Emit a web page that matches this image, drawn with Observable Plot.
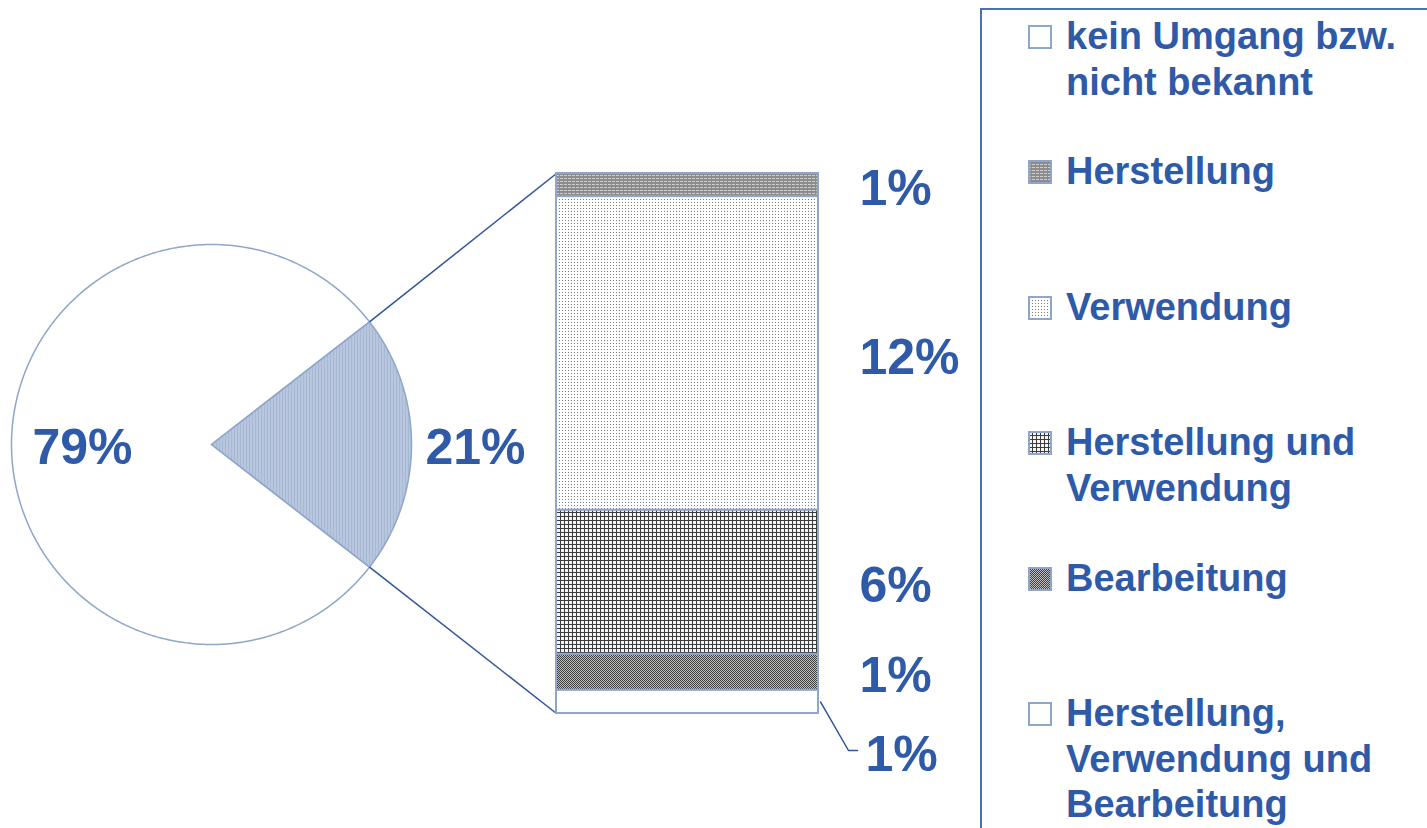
<!DOCTYPE html>
<html>
<head>
<meta charset="utf-8">
<script src="https://cdn.jsdelivr.net/npm/d3@7"></script>
<script src="https://cdn.jsdelivr.net/npm/@observablehq/plot@0.6"></script>
<style>
html, body { margin: 0; padding: 0; background: #fff; overflow: hidden; }
#wrap { position: relative; width: 1427px; height: 828px; overflow: hidden; font-family: "Liberation Sans", Arial, sans-serif; }
#chart svg { display: block; }
#legend { position: absolute; left: 980px; top: 8px; width: 600px; height: 900px; border: 2px solid #4a70b8; box-sizing: border-box; }
.item { position: absolute; left: 84px; font-size: 38px; font-weight: bold; color: #2f5aa8; line-height: 45.5px; white-space: nowrap; }
.sw { position: absolute; left: 46px; width: 24px; height: 24px; }
</style>
</head>
<body>
<svg width="0" height="0" style="position:absolute">
  <defs>
    <pattern id="pPie" width="3" height="2" patternUnits="userSpaceOnUse">
      <rect width="3" height="2" fill="#a6b8d3"/>
      <rect x="1" width="1" height="2" fill="#cad5e6"/>
    </pattern>
    <pattern id="pHer" width="4" height="3" patternUnits="userSpaceOnUse">
      <rect width="4" height="3" fill="#8c8c8c"/>
      <rect x="0" y="1" width="3" height="1" fill="#cdcdcd"/>
    </pattern>
    <pattern id="pVer" width="3" height="3" patternUnits="userSpaceOnUse">
      <rect width="3" height="3" fill="#ffffff"/>
      <rect x="1" y="1" width="1" height="1" fill="#7a7a7a"/>
    </pattern>
    <pattern id="pHuV" width="4" height="4" patternUnits="userSpaceOnUse">
      <rect width="4" height="4" fill="#f4f4f4"/>
      <rect width="4" height="1" fill="#3c3c3c"/>
      <rect width="1" height="4" fill="#3c3c3c"/>
    </pattern>
    <pattern id="pBea" width="2" height="2" patternUnits="userSpaceOnUse">
      <rect width="2" height="2" fill="#bdbdbd"/>
      <rect x="0" y="0" width="1" height="1" fill="#404040"/>
      <rect x="1" y="1" width="1" height="1" fill="#404040"/>
    </pattern>
  </defs>
</svg>
<div id="wrap">
  <div id="chart"></div>
  <div id="legend"></div>
</div>
<script>
// ---------- data ----------
const categories = [
  "kein Umgang bzw. nicht bekannt",
  "Herstellung",
  "Verwendung",
  "Herstellung und Verwendung",
  "Bearbeitung",
  "Herstellung, Verwendung und Bearbeitung"
];
const legendLines = [
  ["kein Umgang bzw.", "nicht bekannt"],
  ["Herstellung"],
  ["Verwendung"],
  ["Herstellung und", "Verwendung"],
  ["Bearbeitung"],
  ["Herstellung,", "Verwendung und", "Bearbeitung"]
];
const categoryFills = ["#ffffff", "url(#pHer)", "url(#pVer)", "url(#pHuV)", "url(#pBea)", "#ffffff"];

const pieCategories = ["kein Umgang bzw. nicht bekannt", "Umgang"];
const pieValues = [79, 21];
const pieLabels = ["79%", "21%"];

// bar: top to bottom
const barCategories = ["Herstellung", "Verwendung", "Herstellung und Verwendung", "Bearbeitung", "Herstellung, Verwendung und Bearbeitung"];
const barValues = [0.9, 12.2, 5.6, 1.4, 0.9];
const barLabels = ["1%", "12%", "6%", "1%", "1%"];

// ---------- layout ----------
const W = 1427, H = 828;
const blue = "#2f5aa8", edge = "#8ea6c9", linkBlue = "#2f5597";
const font = "'Liberation Sans', Arial, sans-serif";
const total = d3.sum(barValues);
const barTopPx = 173, barBottomPx = 713;
const K = (barBottomPx - barTopPx) / total;     // px per percentage unit
const ux = px => px / K;                         // layout helpers (px -> units)
const uy = py => (barBottomPx - py) / K;
const pie = {cx: ux(211), cy: uy(444), r: 200 / K};
const bar = {x0: ux(556), x1: ux(818)};
const labelX = ux(859);
const pieLabelRadius = [0.645, 1.32];

// pie slices (d3 angles: clockwise from 12 o'clock)
const pieSum = d3.sum(pieValues);
const start = Math.PI / 2 + Math.PI * pieValues[1] / pieSum;
const arcs = d3.pie().sort(null).startAngle(start).endAngle(start + 2 * Math.PI)(pieValues);
const pt = (a, rr) => ({x: pie.cx + rr * Math.sin(a), y: pie.cy + rr * Math.cos(a)});
const sliceRows = arcs.map((a, i) => {
  const rows = [{...pt(0, 0)}];
  const n = Math.ceil((a.endAngle - a.startAngle) / 0.01);
  for (let k = 0; k <= n; k++) rows.push(pt(a.startAngle + (a.endAngle - a.startAngle) * k / n, pie.r));
  rows.push({...pt(0, 0)});
  return rows;
});
const pieLabelRows = arcs.map((a, i) => {
  const mid = (a.startAngle + a.endAngle) / 2;
  return {...pt(mid, pie.r * pieLabelRadius[i]), text: pieLabels[i]};
});

// bar stacking (bottom up)
let acc = total;
const barRows = barValues.map((v, i) => {
  const y2 = acc, y1 = acc - v; acc = y1;
  return {cat: barCategories[i], y1, y2, mid: (y1 + y2) / 2, label: barLabels[i],
          fill: categoryFills[categories.indexOf(barCategories[i])]};
});
// last (bottom) label placed outside with a leader
const last = barRows[barRows.length - 1];
const leaderY = uy(750);
last.ly = leaderY; last.lx = ux(865);
barRows.forEach(d => { if (d.ly === undefined) { d.ly = d.mid; d.lx = labelX; } });
const leader = [
  {x: bar.x1 + ux(2), y: last.mid},
  {x: ux(848), y: leaderY},
  {x: ux(857), y: leaderY}
];

// connector lines from the 21% slice to the bar
const small = arcs[1];
const pUp = pt(small.startAngle, pie.r), pDown = pt(small.endAngle, pie.r);
const connectors = [
  {x1: pUp.x, y1: pUp.y, x2: bar.x0, y2: total},
  {x1: pDown.x, y1: pDown.y, x2: bar.x0, y2: 0}
];

const chart = Plot.plot({
  width: W, height: H,
  margin: 0,
  x: {domain: [0, W / K], axis: null},
  y: {domain: [uy(H), uy(0)], axis: null},
  color: {type: "identity"},
  style: {fontFamily: font, background: "white"},
  marks: [
    Plot.line(sliceRows[0], {x: "x", y: "y", fill: "white", stroke: edge, strokeWidth: 1.5}),
    Plot.line(sliceRows[1], {x: "x", y: "y", fill: "url(#pPie)", stroke: edge, strokeWidth: 1.5}),
    Plot.link(connectors, {x1: "x1", y1: "y1", x2: "x2", y2: "y2", stroke: linkBlue, strokeWidth: 1.5}),
    Plot.rect(barRows, {x1: () => bar.x0, x2: () => bar.x1, y1: "y1", y2: "y2", fill: "fill", stroke: edge, strokeWidth: 2}),
    Plot.line(leader, {x: "x", y: "y", stroke: linkBlue, strokeWidth: 1.5}),
    Plot.text(barRows, {x: "lx", y: "ly", text: "label", textAnchor: "start", fontSize: 50, fontWeight: "bold", fill: blue, dy: 4}),
    Plot.text(pieLabelRows, {x: "x", y: "y", text: "text", fontSize: 50, fontWeight: "bold", fill: blue, dy: 3})
  ]
});
document.getElementById("chart").appendChild(chart);

// ---------- legend ----------
const legend = d3.select("#legend");
const firstLine = 27, step = 135.4;
categories.forEach((c, i) => {
  const cyL = firstLine + i * step;
  const sw = legend.append("svg").attr("class", "sw").attr("width", 24).attr("height", 24)
    .style("top", (cyL - 12) + "px");
  sw.append("rect").attr("x", 1).attr("y", 1).attr("width", 22).attr("height", 22)
    .attr("fill", categoryFills[i]).attr("stroke", edge).attr("stroke-width", 2);
  const it = legend.append("div").attr("class", "item").style("top", (cyL - 23) + "px");
  legendLines[i].forEach((l, j) => { if (j) it.append("br"); it.append("span").text(l); });
});
</script>
</body>
</html>
